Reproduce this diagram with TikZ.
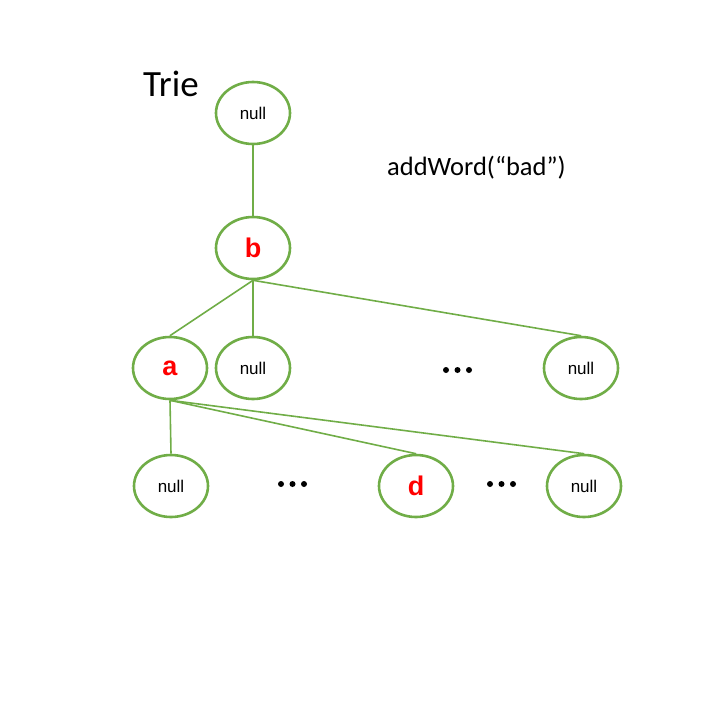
\documentclass[tikz,border=0pt]{standalone}
\usepackage{fontspec}
\setmainfont{Liberation Sans}
\newfontfamily\calib{Carlito}
\definecolor{ogreen}{HTML}{70AD47}
\definecolor{ored}{HTML}{FF0000}
\usetikzlibrary{shapes.geometric}
\begin{document}
\begin{tikzpicture}[x=1pt,y=-1pt,
  tnode/.style={ellipse,draw=ogreen,line width=2.6pt,minimum width=74pt,minimum height=62pt,inner sep=0pt,font=\fontsize{17}{17}\selectfont},
  letter/.style={text=ored,font=\fontsize{27}{27}\selectfont\bfseries},
  edge/.style={draw=ogreen,line width=1.6pt}]
\useasboundingbox (0,0) rectangle (720,720);
\node[tnode] (root) at (253,113) {null};
\node[tnode,letter] (b) at (253,248) {b};
\node[tnode,letter] (a) at (170,368) {a};
\node[tnode] (n1) at (253,368) {null};
\node[tnode] (n2) at (581,368) {null};
\node[tnode] (n3) at (171,486) {null};
\node[tnode,letter] (d) at (416,486) {d};
\node[tnode] (n4) at (584,486) {null};
\node[anchor=base west,inner sep=0pt,font=\calib\fontsize{37}{37}\selectfont] (title) at (143,96) {Trie};
\node[anchor=base west,inner sep=0pt,font=\calib\fontsize{26.5}{26.5}\selectfont] (cmd) at (387,175) {addWord(“bad”)};
\draw[edge] (root.south) -- (b.north);
\draw[edge] (b.south) -- (a.north);
\draw[edge] (b.south) -- (n1.north);
\draw[edge] (b.south) -- (n2.north);
\draw[edge] (a.south) -- (n3.north);
\draw[edge] (a.south) -- (d.north);
\draw[edge] (a.south) -- (n4.north);
\foreach \cx/\cy in {446/370,457.5/370,469/370,281/484,292.5/484,304/484,490/484,501.5/484,513/484}
  \fill (\cx,\cy) circle (3pt);
\end{tikzpicture}
\end{document}
